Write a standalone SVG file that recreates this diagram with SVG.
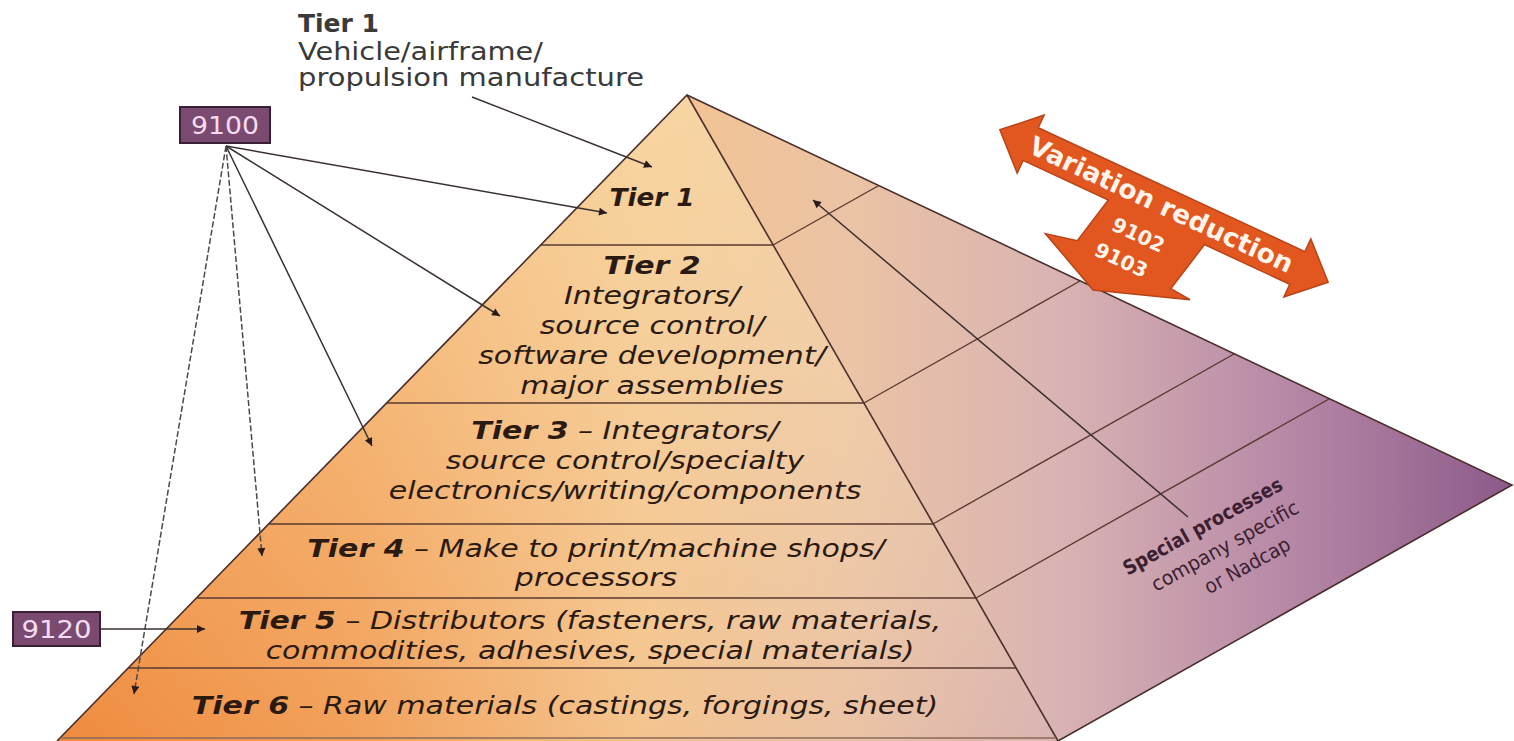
<svg xmlns="http://www.w3.org/2000/svg" width="1514" height="741" viewBox="0 0 1514 741">
  <style>
    .edge { fill: none; stroke: #4a2f2c; stroke-width: 1.6; }
    .grid { fill: none; stroke: #5a3a30; stroke-width: 1.4; }
    .conn { fill: none; stroke: #3a3030; stroke-width: 1.5; }
    .dash { stroke-dasharray: 6 2.5; stroke: #4a4a4a; }
    .tt { font-family: "DejaVu Sans", "Liberation Sans", sans-serif; font-style: italic; font-size: 25px; fill: #2b1a12; }
    .b { font-weight: bold; }
    .lbl { font-family: "DejaVu Sans", "Liberation Sans", sans-serif; font-size: 25px; fill: #3a3a3a; }
    .code { font-family: "DejaVu Sans", "Liberation Sans", sans-serif; font-size: 25px; fill: #f6dcf0; }
    .box { fill: #7b4a70; stroke: #3a2035; stroke-width: 2; }
    .sp { font-family: "DejaVu Sans", "Liberation Sans", sans-serif; font-size: 20px; fill: #3a2030; }
    .var { font-family: "DejaVu Sans", "Liberation Sans", sans-serif; font-weight: bold; fill: #fff4ea; }
  </style>
  <defs>
    <linearGradient id="faceShade" gradientUnits="userSpaceOnUse" x1="57" y1="0" x2="1512" y2="0">
      <stop offset="0" stop-color="#ef8b3f"/>
      <stop offset="0.2" stop-color="#f2a059"/>
      <stop offset="0.4" stop-color="#f4c48e"/>
      <stop offset="0.545" stop-color="#ebc3a5"/>
      <stop offset="0.69" stop-color="#d9b3b3"/>
      <stop offset="0.84" stop-color="#b88aa7"/>
      <stop offset="1" stop-color="#8c5a8a"/>
    </linearGradient>
    <linearGradient id="frontGlow" gradientUnits="userSpaceOnUse" x1="0" y1="95" x2="0" y2="741">
      <stop offset="0" stop-color="#fbe3b0" stop-opacity="0.55"/>
      <stop offset="1" stop-color="#fbe3b0" stop-opacity="0"/>
    </linearGradient>
    <marker id="ah" viewBox="0 0 10 10" refX="10" refY="5" markerWidth="11" markerHeight="8" markerUnits="userSpaceOnUse" orient="auto">
      <path d="M0,0 L10,5 L0,10 z" fill="#2a1a1a"/>
    </marker>
  </defs>

  <rect width="1514" height="741" fill="#ffffff"/>

  <!-- pyramid body -->
  <g id="pyramid">
    <polygon points="687,95 1512,485 1058,741" fill="url(#faceShade)"/>
    <polygon points="687,95 1058,741 57,741" fill="url(#faceShade)"/>
    <polygon points="687,95 1058,741 57,741" fill="url(#frontGlow)"/>
    <!-- tier boundaries on the front face -->
    <line class="grid" x1="541" y1="245" x2="773" y2="245"/>
    <line class="grid" x1="387" y1="403" x2="864" y2="403"/>
    <line class="grid" x1="269" y1="524" x2="933" y2="524"/>
    <line class="grid" x1="197" y1="598" x2="976" y2="598"/>
    <line class="grid" x1="128" y1="668" x2="1016" y2="668"/>
    <!-- matching bands on the side face -->
    <line class="grid" x1="773" y1="245" x2="878" y2="186"/>
    <line class="grid" x1="864" y1="403" x2="1080" y2="281"/>
    <line class="grid" x1="933" y1="524" x2="1234" y2="354"/>
    <line class="grid" x1="976" y1="598" x2="1329" y2="399"/>
    <!-- outline -->
    <polyline class="edge" points="57,741 687,95 1512,485 1058,741"/>
    <line class="edge" x1="687" y1="95" x2="1058" y2="741"/>
    <line x1="60" y1="738" x2="1056" y2="738" stroke="#8a6a5a" stroke-width="1.5"/>
  </g>

  <!-- tier captions -->
  <g id="tier-1" transform="translate(652,0) scale(1.05,1)">
    <text class="tt b" x="0" y="206" text-anchor="middle">Tier 1</text>
  </g>
  <g id="tier-2" transform="translate(652,0) scale(1.2,1)">
    <text class="tt b" x="0" y="274" text-anchor="middle">Tier 2</text>
    <text class="tt" x="0" y="304" text-anchor="middle">Integrators/</text>
    <text class="tt" x="0" y="334" text-anchor="middle">source control/</text>
    <text class="tt" x="0" y="364" text-anchor="middle">software development/</text>
    <text class="tt" x="0" y="394" text-anchor="middle">major assemblies</text>
  </g>
  <g id="tier-3" transform="translate(625,0) scale(1.2,1)">
    <text class="tt" x="0" y="439" text-anchor="middle"><tspan class="b">Tier 3</tspan> – Integrators/</text>
    <text class="tt" x="0" y="469" text-anchor="middle">source control/specialty</text>
    <text class="tt" x="0" y="499" text-anchor="middle">electronics/writing/components</text>
  </g>
  <g id="tier-4" transform="translate(596,0) scale(1.2,1)">
    <text class="tt" x="0" y="557" text-anchor="middle"><tspan class="b">Tier 4</tspan> – Make to print/machine shops/</text>
    <text class="tt" x="0" y="586" text-anchor="middle">processors</text>
  </g>
  <g id="tier-5" transform="translate(590,0) scale(1.2,1)">
    <text class="tt" x="0" y="629" text-anchor="middle"><tspan class="b">Tier 5</tspan> – Distributors (fasteners, raw materials,</text>
    <text class="tt" x="0" y="659" text-anchor="middle">commodities, adhesives, special materials)</text>
  </g>
  <g id="tier-6" transform="translate(565,0) scale(1.2,1)">
    <text class="tt" x="0" y="714" text-anchor="middle"><tspan class="b">Tier 6</tspan> – Raw materials (castings, forgings, sheet)</text>
  </g>

  <!-- top caption -->
  <g id="tier-1-caption">
    <text class="lbl b" x="298" y="32">Tier 1</text>
    <text class="lbl" x="298" y="60" textLength="245" lengthAdjust="spacingAndGlyphs">Vehicle/airframe/</text>
    <text class="lbl" x="298" y="86" textLength="346" lengthAdjust="spacingAndGlyphs">propulsion manufacture</text>
  </g>

  <!-- standard tags -->
  <g id="std-9100">
    <rect class="box" x="180" y="107" width="90" height="36"/>
    <text class="code" x="225" y="134" text-anchor="middle" textLength="68" lengthAdjust="spacingAndGlyphs">9100</text>
  </g>
  <g id="std-9120">
    <rect class="box" x="13" y="612" width="87" height="34"/>
    <text class="code" x="56.5" y="638" text-anchor="middle" textLength="70" lengthAdjust="spacingAndGlyphs">9120</text>
  </g>

  <!-- special processes note on the side face -->
  <g id="special-processes" transform="translate(1203,527) rotate(-29)">
    <text class="sp b" x="0" y="6" text-anchor="middle" textLength="179" lengthAdjust="spacingAndGlyphs">Special processes</text>
    <text class="sp" x="10" y="34" text-anchor="middle" textLength="165" lengthAdjust="spacingAndGlyphs">company specific</text>
    <text class="sp" x="20" y="62" text-anchor="middle" textLength="95" lengthAdjust="spacingAndGlyphs">or Nadcap</text>
  </g>

  <!-- variation reduction arrow -->
  <g id="variation-reduction" transform="translate(1164,206) rotate(24.9)">
    <polygon points="-181,0 -147,-32 -147,-18 147,-18 147,-32 181,0 147,32 147,18 53,18 41,72 63,74 -29,106 -96,75 -64,68 -53,18 -147,18 -147,32"
             fill="#e2561f" stroke="#b84418" stroke-width="1.5" stroke-linejoin="miter"/>
    <text class="var" x="-3" y="9" font-size="26" text-anchor="middle" textLength="288" lengthAdjust="spacingAndGlyphs">Variation reduction</text>
    <text class="var" x="-11" y="44" font-size="20" text-anchor="middle">9102</text>
    <text class="var" x="-16" y="74" font-size="20" text-anchor="middle">9103</text>
  </g>

  <!-- connectors -->
  <g id="connectors">
    <line class="conn" x1="472" y1="97" x2="652" y2="167" marker-end="url(#ah)"/>
    <line class="conn" x1="226" y1="146" x2="607" y2="213" marker-end="url(#ah)"/>
    <line class="conn" x1="226" y1="146" x2="500" y2="316" marker-end="url(#ah)"/>
    <line class="conn" x1="226" y1="146" x2="372" y2="446" marker-end="url(#ah)"/>
    <line class="conn dash" x1="226" y1="146" x2="262" y2="556" marker-end="url(#ah)"/>
    <line class="conn dash" x1="226" y1="146" x2="134" y2="694" marker-end="url(#ah)"/>
    <line class="conn" x1="100" y1="629" x2="205" y2="629" stroke="#6a6a80" marker-end="url(#ah)"/>
    <line class="conn" x1="1188" y1="517" x2="813" y2="200" marker-end="url(#ah)"/>
  </g>
</svg>
